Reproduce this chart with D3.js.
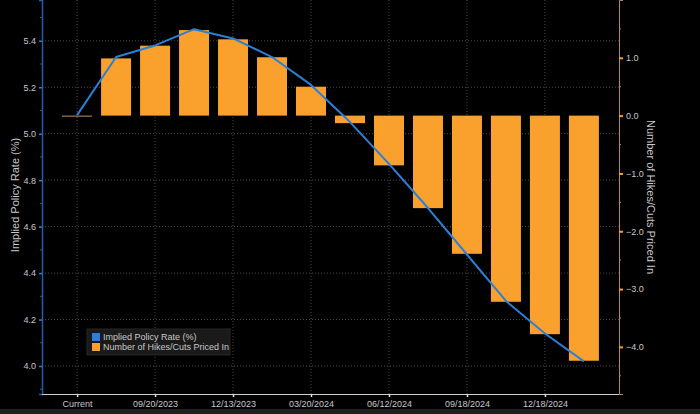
<!DOCTYPE html>
<html>
<head>
<meta charset="utf-8">
<script src="https://cdn.jsdelivr.net/npm/d3@7"></script>
<style>
  html, body { margin: 0; padding: 0; background: #000; }
  svg { display: block; }
  text { font-family: "Liberation Sans", Arial, sans-serif; }
</style>
</head>
<body>
<svg id="chart" width="700" height="414"></svg>
<script>
// ---- data ----
const categories = ["Current","07/26/2023","09/20/2023","11/01/2023","12/13/2023","01/31/2024","03/20/2024","05/01/2024","06/12/2024","07/31/2024","09/18/2024","11/07/2024","12/18/2024","01/29/2025"];
const impliedRate = [5.08, 5.33, 5.38, 5.45, 5.41, 5.33, 5.21, 5.05, 4.87, 4.68, 4.48, 4.28, 4.14, 4.02];
const hikesCuts = [0, 0.99, 1.21, 1.48, 1.32, 1.01, 0.50, -0.13, -0.86, -1.60, -2.39, -3.22, -3.78, -4.24];
const xTickLabels = ["Current","09/20/2023","12/13/2023","03/20/2024","06/12/2024","09/18/2024","12/18/2024"];
const leftTicks = [4.0, 4.2, 4.4, 4.6, 4.8, 5.0, 5.2, 5.4];
const rightTicks = [1.0, 0.0, -1.0, -2.0, -3.0, -4.0];
const seriesNames = ["Implied Policy Rate (%)", "Number of Hikes/Cuts Priced In"];

// ---- layout ----
const svg = d3.select("#chart");
const L = 42, R = 619, T = 0, B = 394;
const blue = "#2b7fd8", orange = "#f9a12c", gridC = "#4a4a4a", textC = "#c8c8c8";

svg.append("rect").attr("width", 700).attr("height", 414).attr("fill", "#000");
svg.append("rect").attr("x", 0).attr("y", 409).attr("width", 700).attr("height", 5).attr("fill", "#202020");

const x = d3.scalePoint().domain(categories).range([L, R]).padding(0.9);
const yL = d3.scaleLinear().domain([3.8795, 5.5755]).range([B, T]);
const yR = d3.scaleLinear().domain([-4.815, 2.0]).range([B, T]);
const barW = 30;

// gridlines
const grid = svg.append("g");
grid.selectAll("line.h").data(leftTicks).join("line")
  .attr("x1", L).attr("x2", R).attr("y1", d => yL(d)).attr("y2", d => yL(d))
  .attr("stroke", gridC).attr("stroke-width", 1).attr("stroke-dasharray", "1,2");
grid.selectAll("line.v").data(xTickLabels).join("line")
  .attr("x1", d => x(d)).attr("x2", d => x(d)).attr("y1", T).attr("y2", B)
  .attr("stroke", gridC).attr("stroke-width", 1).attr("stroke-dasharray", "1,2");

// bars
svg.append("g").selectAll("rect").data(categories).join("rect")
  .attr("x", d => x(d) - barW / 2)
  .attr("width", barW)
  .attr("y", (d, i) => Math.min(yR(0), yR(hikesCuts[i])))
  .attr("height", (d, i) => Math.max(1, Math.abs(yR(hikesCuts[i]) - yR(0))))
  .attr("fill", (d, i) => hikesCuts[i] === 0 ? "#c8945a" : orange);

// line
const line = d3.line()
  .x((d, i) => x(categories[i]))
  .y(d => yL(d))
  .curve(d3.curveLinear);
svg.append("path").datum(impliedRate)
  .attr("d", line).attr("fill", "none").attr("stroke", blue).attr("stroke-width", 2)
  .attr("stroke-linejoin", "round");

// left axis
const leftAxis = d3.axisLeft(yL).tickValues(leftTicks).tickFormat(d3.format(".1f")).tickSize(3).tickPadding(3);
const gL = svg.append("g").attr("transform", `translate(${L},0)`).call(leftAxis);
gL.select(".domain").attr("stroke", "#1f5fa8").attr("stroke-width", 1.5);
gL.selectAll(".tick line").attr("stroke", blue).attr("stroke-width", 1.5);
gL.selectAll(".tick text").attr("fill", textC).attr("font-size", 9).attr("font-family", "Liberation Sans, Arial, sans-serif");
// left minor ticks
svg.append("g").selectAll("line").data(d3.range(3.9, 5.6, 0.2)).join("line")
  .attr("x1", L - 2).attr("x2", L).attr("y1", d => yL(d)).attr("y2", d => yL(d))
  .attr("stroke", "#1f5fa8").attr("stroke-width", 1);

// right axis
const rightAxis = d3.axisRight(yR).tickValues(rightTicks).tickFormat(d3.format(".1f")).tickSize(4).tickPadding(3);
const gR = svg.append("g").attr("transform", `translate(${R},0)`).call(rightAxis);
gR.select(".domain").attr("stroke", "#b8865a").attr("stroke-width", 1);
gR.selectAll(".tick line").attr("stroke", orange).attr("stroke-width", 2);
gR.selectAll(".tick text").attr("fill", textC).attr("font-size", 9).attr("font-family", "Liberation Sans, Arial, sans-serif");
svg.append("g").selectAll("line").data([1.5, 0.5, -0.5, -1.5, -2.5, -3.5, -4.5]).join("line")
  .attr("x1", R).attr("x2", R + 2).attr("y1", d => yR(d)).attr("y2", d => yR(d))
  .attr("stroke", "#b8865a").attr("stroke-width", 1);

// bottom axis
const bottomAxis = d3.axisBottom(x).tickValues(xTickLabels).tickSize(3).tickPadding(4);
const gB = svg.append("g").attr("transform", `translate(0,${B})`).call(bottomAxis);
gB.select(".domain").attr("stroke", "#d0d0d0").attr("stroke-width", 1)
  .attr("d", `M${L},0.5H${R}`);
gB.selectAll(".tick line").attr("stroke", "#e0e0e0").attr("stroke-width", 1.5);
gB.selectAll(".tick text").attr("fill", textC).attr("font-size", 9).attr("font-family", "Liberation Sans, Arial, sans-serif");

// axis titles
svg.append("text")
  .attr("transform", `translate(19,195) rotate(-90)`)
  .attr("text-anchor", "middle").attr("fill", textC).attr("font-size", 11)
  .text("Implied Policy Rate (%)");
svg.append("text")
  .attr("transform", `translate(647,197) rotate(90)`)
  .attr("text-anchor", "middle").attr("fill", textC).attr("font-size", 11)
  .text("Number of Hikes/Cuts Priced In");

// legend
const lg = svg.append("g").attr("transform", "translate(87,329)");
lg.append("rect").attr("width", 143).attr("height", 26).attr("fill", "#1a1a1a").attr("stroke", "#262626");
const legColors = [blue, orange];
seriesNames.forEach((name, i) => {
  lg.append("rect").attr("x", 5).attr("y", 4 + i * 10).attr("width", 8).attr("height", 8).attr("fill", legColors[i]);
  lg.append("text").attr("x", 16).attr("y", 11 + i * 10).attr("fill", textC).attr("font-size", 9).text(name);
});
</script>
</body>
</html>
